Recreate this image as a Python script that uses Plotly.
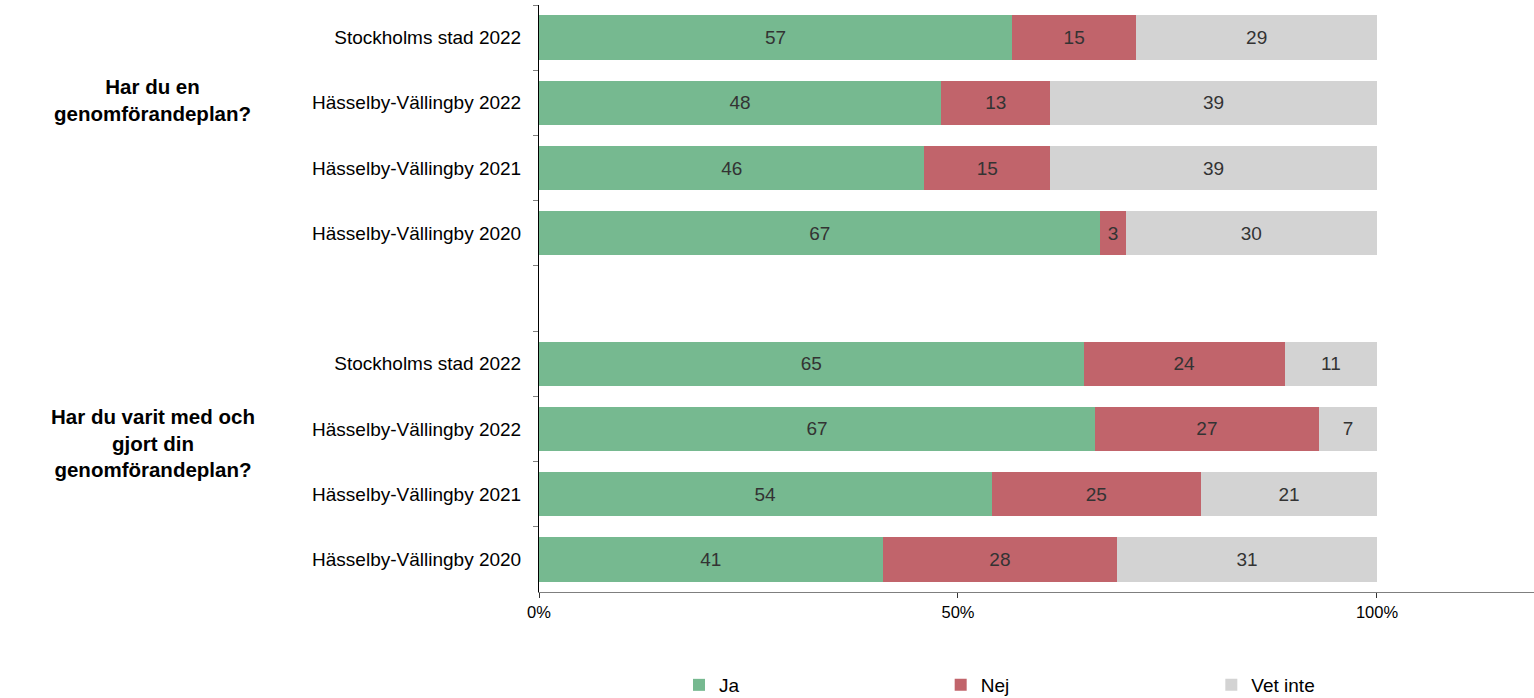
import plotly.graph_objects as go

# Data (labels as in chart; bars normalised to 100% via barnorm)
categories = [
    "Stockholms stad 2022", "Hässelby-Vällingby 2022", "Hässelby-Vällingby 2021", "Hässelby-Vällingby 2020",
    "",
    "Stockholms stad 2022\u200b", "Hässelby-Vällingby 2022\u200b", "Hässelby-Vällingby 2021\u200b", "Hässelby-Vällingby 2020\u200b",
]
ja = [57, 48, 46, 67, None, 65, 67, 54, 41]
nej = [15, 13, 15, 3, None, 24, 27, 25, 28]
vet_inte = [29, 39, 39, 30, None, 11, 7, 21, 31]
series_names = ["Ja", "Nej", "Vet inte"]
colors = ["#76B990", "#C1646B", "#D3D3D3"]
group_titles = ["Har du en<br>genomförandeplan?", "Har du varit med och<br>gjort din<br>genomförandeplan?"]
x_ticks = [0, 50, 100]
x_ticklabels = ["0%", "50%", "100%"]

FONT = "Liberation Sans, Arial, sans-serif"

legend_ids = ["legend", "legend2", "legend3"]
legend_x = [0.1407, 0.4037, 0.6757]

fig = go.Figure()
for name, vals, col, lg in zip(series_names, [ja, nej, vet_inte], colors, legend_ids):
    fig.add_trace(go.Bar(
        y=categories, x=vals, name=name, orientation="h", legend=lg,
        marker=dict(color=col, line=dict(width=0)),
        text=[("" if v is None else str(v)) for v in vals],
        textposition="inside", insidetextanchor="middle", textangle=0,
        constraintext="none",
        textfont=dict(family=FONT, size=19, color="#333333"),
        hoverinfo="skip",
    ))

legend_common = dict(orientation="h", xanchor="left", yref="container", y=1 - 685 / 698,
                     yanchor="middle",
                     font=dict(family=FONT, size=19, color="#000000"),
                     bgcolor="rgba(0,0,0,0)")

fig.update_layout(
    barmode="stack", barnorm="percent", bargap=0.32,
    width=1534, height=698,
    margin=dict(l=539, r=0, t=5, b=106),
    paper_bgcolor="white", plot_bgcolor="white",
    font=dict(family=FONT, size=19, color="#000000"),
    showlegend=True,
    legend=dict(x=legend_x[0], **legend_common),
    legend2=dict(x=legend_x[1], **legend_common),
    legend3=dict(x=legend_x[2], **legend_common),
    xaxis=dict(range=[0, 118.74], tickvals=x_ticks, ticktext=x_ticklabels,
               showgrid=False, zeroline=False, showline=True, linecolor="#7f7f7f", linewidth=1,
               ticks="outside", ticklen=5, tickcolor="#333333",
               tickfont=dict(family=FONT, size=16.5, color="#000000")),
    yaxis=dict(type="category", categoryorder="array", categoryarray=categories,
               autorange="reversed", showgrid=False, zeroline=False,
               showline=True, linecolor="#000000", linewidth=1,
               ticks="outside", ticklen=5, tickcolor="#7f7f7f", tickson="boundaries",
               ticklabelstandoff=13,
               tickfont=dict(family=FONT, size=19, color="#000000")),
)

for title, yc in zip(group_titles, [0.838, 0.254]):
    fig.add_annotation(text="<b>" + title + "</b>", xref="paper", yref="paper",
                       x=-0.388, y=yc, xanchor="center", yanchor="middle",
                       showarrow=False, align="center",
                       font=dict(family=FONT, size=20.5, color="#000000"))

fig.write_html("out.html", config={"displayModeBar": False},
               post_script="document.body.style.margin='0';document.body.style.overflow='hidden';")
